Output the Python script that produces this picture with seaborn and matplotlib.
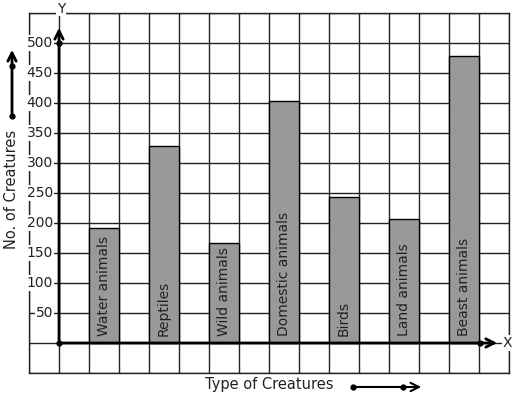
import numpy as np
import matplotlib
matplotlib.use("Agg")
import matplotlib.pyplot as plt
import seaborn as sns

# -----------------------------
# Data
# -----------------------------
creatures = ["Water animals", "Reptiles", "Wild animals", "Domestic animals",
             "Birds", "Land animals", "Beast animals"]
counts = [191, 328, 167, 403, 243, 207, 478]
y_labels = [50, 100, 150, 200, 250, 300, 350, 400, 450, 500]

# -----------------------------
# Style
# -----------------------------
sns.set_style("white")
plt.rcParams["font.family"] = ["DejaVu Sans"]
text_col = "#222222"

fig = plt.figure(figsize=(5.17, 3.99), dpi=100)
ax = fig.add_axes([29 / 517, 26 / 399, 480 / 517, 360 / 399])

sns.barplot(x=creatures, y=counts, color="#999999", edgecolor="black",
            linewidth=1, width=0.5, saturation=1, ax=ax, zorder=2)

ax.set_xlim(-1.25, 6.75)
ax.set_ylim(-50, 550)
ax.set_xticks(np.arange(-1.25, 6.8, 0.5))
ax.set_yticks(np.arange(-50, 551, 50))
ax.set_xticklabels([])
ax.set_yticklabels([])
ax.tick_params(length=0)
ax.set_xlabel("")
ax.set_ylabel("")
ax.grid(True, color="#222222", linewidth=1)
ax.set_axisbelow(True)
for s in ax.spines.values():
    s.set_color("#222222")
    s.set_linewidth(1)

# bar names written inside the bars
for i, name in enumerate(creatures):
    ax.text(i, 12, name, rotation=90, ha="center", va="bottom",
            fontsize=10, color=text_col, zorder=4)

# y values next to the Y axis
for v in y_labels:
    ax.text(-0.85, v, str(v), ha="right", va="center", fontsize=10, color=text_col,
            bbox=dict(facecolor="white", edgecolor="none", pad=0.5), zorder=3)

# axes with arrows
ax.annotate("", xy=(-0.75, 530), xytext=(-0.75, 0),
            arrowprops=dict(arrowstyle="->", lw=2, color="black",
                            mutation_scale=15), zorder=5)
ax.annotate("", xy=(6.6, 0), xytext=(-0.75, 0),
            arrowprops=dict(arrowstyle="->", lw=2, color="black",
                            mutation_scale=15), zorder=5)
ax.plot([-0.75, -0.75, 6.27], [0, 500, 0], "o", color="black", ms=3.5,
        zorder=6, clip_on=False)
ax.text(-0.72, 557, "Y", ha="center", va="center", fontsize=10, color=text_col,
        bbox=dict(facecolor="white", edgecolor="none", pad=0.5), zorder=5,
        clip_on=False)
ax.text(6.73, 0, "X", ha="center", va="center", fontsize=10, color=text_col,
        bbox=dict(facecolor="white", edgecolor="none", pad=0.5), zorder=5,
        clip_on=False)

# outer axis titles with arrows
fig.text(12 / 517, 210 / 399, "No. of Creatures", rotation=90, ha="center",
         va="center", fontsize=10.5, color=text_col)
fig.text(269 / 517, 15 / 399, "Type of Creatures", ha="center", va="center",
         fontsize=10.5, color=text_col)

ax.annotate("", xy=(12, 352), xytext=(12, 283), xycoords="figure pixels",
            textcoords="figure pixels",
            arrowprops=dict(arrowstyle="->", lw=2, color="black",
                            mutation_scale=15))
ax.annotate("", xy=(424, 12), xytext=(353, 12), xycoords="figure pixels",
            textcoords="figure pixels",
            arrowprops=dict(arrowstyle="->", lw=1.5, color="black",
                            mutation_scale=15))
for px, py in [(12, 283), (12, 333), (353, 12), (403, 12)]:
    fig.add_artist(plt.Line2D([px / 517], [py / 399], marker="o", ms=3.5,
                              color="black", transform=fig.transFigure))

fig.savefig("out.png", dpi=100)
